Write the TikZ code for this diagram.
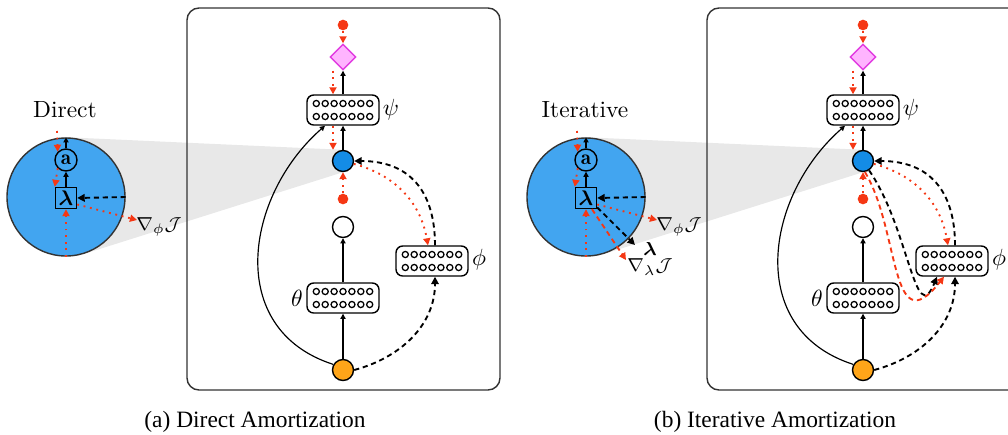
\documentclass[tikz,border=0pt]{standalone}
\usepackage{amsmath}
\usepackage{amssymb}
\usepackage{fontspec}
\newfontfamily\capfont{Liberation Serif}
\usepackage{tikz}
\usetikzlibrary{arrows.meta,calc,shapes.geometric,backgrounds}
\definecolor{gradred}{RGB}{245,55,20}
\definecolor{bigblue}{RGB}{66,165,240}
\definecolor{hidblue}{RGB}{20,140,230}
\definecolor{inorange}{RGB}{255,165,25}
\definecolor{outpink}{RGB}{255,180,255}
\definecolor{outmag}{RGB}{225,60,225}
\tikzset{
  layer/.style={draw, line width=0.6pt, rounded corners=0.1cm, minimum width=1.08cm, minimum height=0.45cm},
  unit/.style={draw, circle, line width=0.6pt, minimum size=0.315cm, inner sep=0pt},
  sample/.style={circle, fill=gradred, minimum size=0.16cm, inner sep=0pt},
  fwd/.style={-{Triangle[length=2.2pt,width=2.2pt]}, line width=0.5pt},
  bwd/.style={-{Triangle[length=3pt,width=3pt]}, gradred, line width=0.8pt, dotted},
  rdash/.style={-{Triangle[length=3pt,width=3pt]}, gradred, line width=0.8pt, dash pattern=on 2.2pt off 1.6pt},
  upd/.style={-{Triangle[length=3.2pt,width=3.2pt]}, line width=0.8pt, dash pattern=on 2.2pt off 1.6pt},
}
% two rows of seven units inside a layer box
\newcommand{\neurons}[1]{%
  \foreach \k in {-3,...,3}{
    \draw[line width=0.55pt] ($(#1)+(\k*8.9,-6.5)$) circle (0.046cm);
    \draw[line width=0.55pt] ($(#1)+(\k*8.9,6.5)$) circle (0.046cm);
  }}
% one panel: #1 name prefix, #2 x offset, #3 title, #4 caption
\newcommand{\amortpanel}[4]{%
\begin{scope}[shift={(#2,0)}]
\draw[black!80, line width=0.6pt, rounded corners=0.18cm] (187,8) rectangle (500,390);
% network
\node[sample] (#1top) at (343,25) {};
\node[diamond, draw=outmag, fill=outpink, line width=0.6pt, minimum size=0.39cm, inner sep=0pt] (#1out) at (343,57) {};
\node[layer] (#1psi) at (343,110) {};
\neurons{#1psi}
\node[unit, fill=hidblue] (#1hid) at (343,161) {};
\node[sample] (#1mid) at (343,199) {};
\node[unit] (#1pri) at (343,227) {};
\node[layer] (#1theta) at (343,298) {};
\neurons{#1theta}
\node[unit, fill=inorange] (#1in) at (343,370) {};
\node[layer] (#1phi) at (432,261) {};
\neurons{#1phi}
\node (#1psil) at (391,110) {$\psi$};
\node (#1phil) at (479,260) {$\phi$};
\node (#1thetal) at (297,298) {$\theta$};
\draw[fwd] (#1in) -- (#1theta);
\draw[fwd] (#1theta) -- (#1pri);
\draw[fwd] (#1hid) -- (#1psi);
\draw[fwd] (#1psi) -- (#1out);
\draw[bwd] (#1top) -- (#1out);
\draw[bwd] ([xshift=-0.15cm]#1out.south) -- ([xshift=-0.15cm]#1psi.north);
\draw[bwd] ([xshift=-0.15cm]#1psi.south) -- ([xshift=-0.15cm]#1hid.north);
\draw[bwd] (#1mid) -- (#1hid);
\draw[fwd] (#1in.150) .. controls +(-109,-35) and +(-80,70) .. ([xshift=-0.27cm]#1psi.south);
\draw[upd] (#1in.east) to[out=15,in=-90] ([xshift=0.045cm]#1phi.south);
\draw[upd] ([xshift=0.045cm]#1phi.north) to[out=90,in=0,looseness=1.2] (#1hid.east);
\draw[bwd] (#1hid.-15) to[out=-15,in=100] ([xshift=-0.06cm]#1phi.north);
% zoomed unit
\node (#1ttl) at (65,110) {#3};
\node[circle, draw=black!80, fill=bigblue, line width=0.6pt, minimum size=1.77cm, inner sep=0pt] (#1big) at (66,197) {};
\begin{scope}[on background layer]
\fill[black!9] (tangent cs:node=#1big,point={(#1hid.north)},solution=1) -- (#1hid.north)
  -- (#1hid.south) -- (tangent cs:node=#1big,point={(#1hid.south)},solution=2) -- cycle;
\end{scope}
\node[draw, line width=0.6pt, minimum size=0.315cm, inner sep=0pt, font=\small] (#1lam) at (66,198) {$\boldsymbol{\lambda}$};
\node[unit, minimum size=0.33cm, font=\small] (#1act) at (66,160) {$\mathbf{a}$};
\coordinate (#1gin) at (57,131);
\coordinate (#1gphi) at (137,220);
\node[font=\footnotesize] (#1gphil) at (159,227) {$\nabla_\phi\mathcal{J}$};
\draw[fwd] (#1lam) -- (#1act);
\draw[fwd] (#1act) -- (#1big.north);
\draw[bwd] (#1gin) -- (#1act.north west);
\draw[bwd] (#1act.south west) -- (#1lam.north west);
\draw[bwd] (#1big.south) -- (#1lam.south);
\draw[upd] (#1big.east) -- (#1lam.east);
\draw[bwd] (#1lam.-30) -- (#1gphi);
\node[font=\capfont] (#1cap) at (255,422) {#4};
\end{scope}}

\begin{document}
\begin{tikzpicture}[x=0.015cm, y=-0.015cm]
\useasboundingbox (0,0) rectangle (1008,434);
\clip (0,0) rectangle (1008,434);
\amortpanel{d}{0}{Direct}{(a) Direct Amortization}
\amortpanel{i}{520}{Iterative}{(b) Iterative Amortization}
% iterative refinement of lambda
\coordinate (iglam) at (635,245);
\coordinate (ignab) at (626,260);
\node[font=\footnotesize] (iglaml) at (650,249) {$\boldsymbol{\lambda}$};
\node[font=\footnotesize] (ignabl) at (650,267) {$\nabla_\lambda\mathcal{J}$};
\draw[upd] (ilam.-40) -- (iglam);
\draw[rdash] (ilam.-62) -- (ignab);
\draw[upd] (ihid.-57) .. controls +(40,58) and +(-22,53.5) .. ([xshift=-0.225cm]iphi.south);
\draw[rdash] (ihid.-80) .. controls +(35,58) and +(-54,68.5) .. ([xshift=-0.12cm]iphi.south);
\end{tikzpicture}
\end{document}
